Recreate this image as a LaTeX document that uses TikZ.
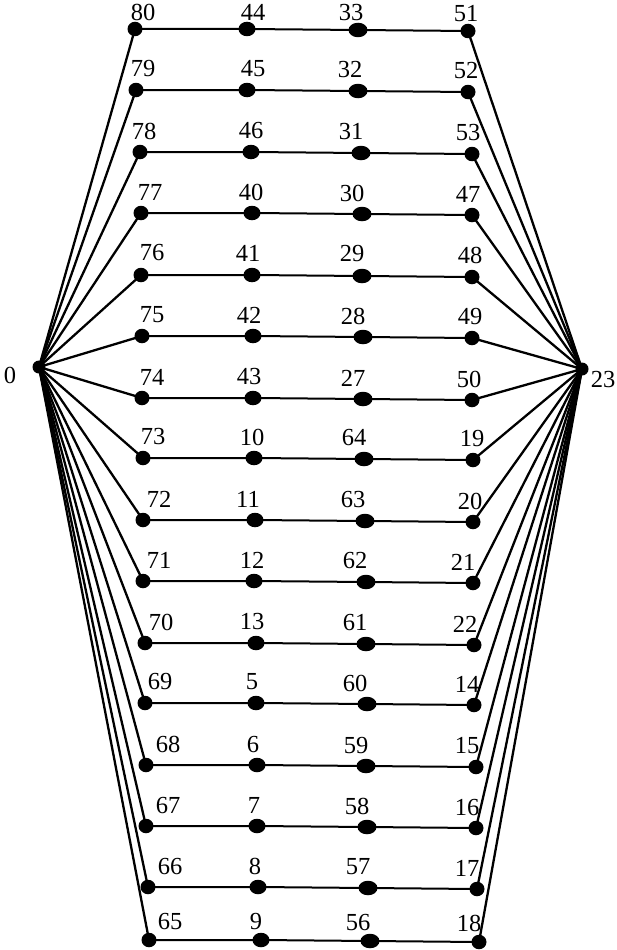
\documentclass[tikz,border=0pt]{standalone}
\usepackage{fontspec}
\setmainfont{Liberation Serif}
\usetikzlibrary{shapes.geometric}

\tikzset{
  vtx/.style={ellipse, fill=black, draw=none, inner sep=0pt,
              minimum width=15pt, minimum height=14.5pt},
  vtxwide/.style={vtx, minimum width=17pt},
  vtxwider/.style={vtx, minimum width=19pt},
  hub/.style={circle, fill=black, draw=none, inner sep=0pt, minimum size=13pt},
  lbl/.style={inner sep=0pt, font=\fontsize{24.5}{29}\selectfont},
  rowline/.style={line width=2pt},
  spoke/.style={line width=2.3pt},
}

\begin{document}
\begin{tikzpicture}[x=1pt, y=-1pt]
  \useasboundingbox (0,0) rectangle (616,950);

  % the two hubs
  \node[hub] (n0)  at (39,367) {};
  \node[hub] (n23) at (582,369) {};
  \node[lbl] (l0)  at (10,375) {0};
  \node[lbl] (l23) at (603,380) {23};

  % sixteen paths of four vertices each: names, row y, column x, label x, label y
  \foreach \na/\nb/\nc/\nd/\y/\xa/\xb/\xc/\xd/\la/\lb/\lc/\ld/\ly in {
      80/44/33/51/29/135/247/358/468/143/253/351/466/12,
      79/45/32/52/90/136/247/358/468/143/253/350/466/69,
      78/46/31/53/152/140/251/361/472/144/251/351/468/131,
      77/40/30/47/213/141/252/362/472/150/251/352/468/192,
      76/41/29/48/275/141/252/362/472/152/248/352/470/253,
      75/42/28/49/336/142/253/363/472/152/249/353/470/315,
      74/43/27/50/398/142/253/363/472/152/249/353/469/377,
      73/10/64/19/458/143/254/364/473/153/252/354/472/437,
      72/11/63/20/520/143/255/365/473/159/248/353/470/499,
      71/12/62/21/581/143/254/366/473/159/252/355/463/560,
      70/13/61/22/643/145/256/366/474/161/252/355/465/622,
      69/5/60/14/703/145/256/367/474/160/252/355/467/682,
      68/6/59/15/765/146/257/366/476/168/253/356/467/744,
      67/7/58/16/826/146/257/367/476/168/254/357/467/805,
      66/8/57/17/887/148/258/368/477/170/255/358/467/866,
      65/9/56/18/940/149/261/370/479/170/256/358/469/921} {
    \node[vtx]      (n\na) at (\xa,\y)   {};
    \node[vtxwide]  (n\nb) at (\xb,\y)   {};
    \node[vtxwider] (n\nc) at (\xc,\y+1) {};
    \node[vtx]      (n\nd) at (\xd,\y+2) {};
    \node[lbl] (l\na) at (\la,\ly)   {\na};
    \node[lbl] (l\nb) at (\lb,\ly)   {\nb};
    \node[lbl] (l\nc) at (\lc,\ly+1) {\nc};
    \node[lbl] (l\nd) at (\ld,\ly+2) {\nd};
    \draw[rowline] (n\na.center) -- (n\nb.center) -- (n\nc.center) -- (n\nd.center);
    \draw[spoke] (n0.center) -- (n\na.center);
    \draw[spoke] (n23.center) -- (n\nd.center);
  }
\end{tikzpicture}
\end{document}
